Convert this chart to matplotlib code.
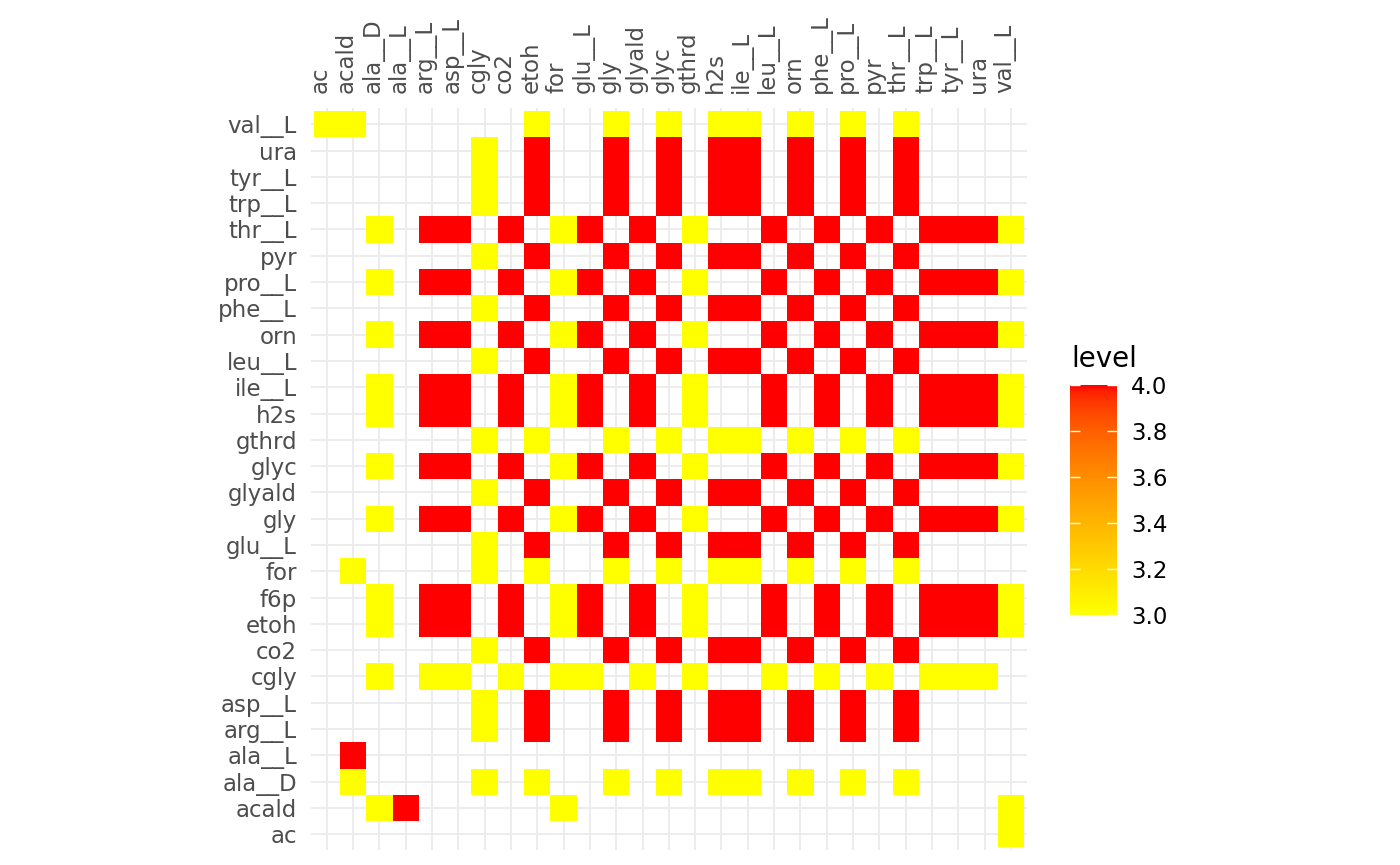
import numpy as np
import matplotlib.pyplot as plt
from matplotlib.colors import ListedColormap

# columns (top axis) and rows (left axis, bottom -> top)
x_labels = ['ac', 'acald', 'ala__D', 'ala__L', 'arg__L', 'asp__L', 'cgly', 'co2',
            'etoh', 'for', 'glu__L', 'gly', 'glyald', 'glyc', 'gthrd', 'h2s',
            'ile__L', 'leu__L', 'orn', 'phe__L', 'pro__L', 'pyr', 'thr__L',
            'trp__L', 'tyr__L', 'ura', 'val__L']
y_labels = ['ac', 'acald', 'ala__D', 'ala__L', 'arg__L', 'asp__L', 'cgly', 'co2',
            'etoh', 'f6p', 'for', 'glu__L', 'gly', 'glyald', 'glyc', 'gthrd',
            'h2s', 'ile__L', 'leu__L', 'orn', 'phe__L', 'pro__L', 'pyr',
            'thr__L', 'trp__L', 'tyr__L', 'ura', 'val__L']

# level per cell, one string per row (same order as y_labels); '.' = no tile
level_rows = [
    "..........................3",  # ac
    "..34.....3................3",  # acald
    ".3....3.3..3.3.33.3.3.3....",  # ala__D
    ".4.........................",  # ala__L
    "......3.4..4.4.44.4.4.4....",  # arg__L
    "......3.4..4.4.44.4.4.4....",  # asp__L
    "..3.33.3.33.3.3..3.3.3.333.",  # cgly
    "......3.4..4.4.44.4.4.4....",  # co2
    "..3.44.4.34.4.3..4.4.4.4443",  # etoh
    "..3.44.4.34.4.3..4.4.4.4443",  # f6p
    ".3....3.3..3.3.33.3.3.3....",  # for
    "......3.4..4.4.44.4.4.4....",  # glu__L
    "..3.44.4.34.4.3..4.4.4.4443",  # gly
    "......3.4..4.4.44.4.4.4....",  # glyald
    "..3.44.4.34.4.3..4.4.4.4443",  # glyc
    "......3.3..3.3.33.3.3.3....",  # gthrd
    "..3.44.4.34.4.3..4.4.4.4443",  # h2s
    "..3.44.4.34.4.3..4.4.4.4443",  # ile__L
    "......3.4..4.4.44.4.4.4....",  # leu__L
    "..3.44.4.34.4.3..4.4.4.4443",  # orn
    "......3.4..4.4.44.4.4.4....",  # phe__L
    "..3.44.4.34.4.3..4.4.4.4443",  # pro__L
    "......3.4..4.4.44.4.4.4....",  # pyr
    "..3.44.4.34.4.3..4.4.4.4443",  # thr__L
    "......3.4..4.4.44.4.4.4....",  # trp__L
    "......3.4..4.4.44.4.4.4....",  # tyr__L
    "......3.4..4.4.44.4.4.4....",  # ura
    "33......3..3.3.33.3.3.3....",  # val__L
]
cbar_ticks = [3.0, 3.2, 3.4, 3.6, 3.8, 4.0]

levels = np.full((len(y_labels), len(x_labels)), np.nan)
for i, row in enumerate(level_rows):
    for j, ch in enumerate(row):
        if ch != '.':
            levels[i, j] = float(ch)
levels = np.ma.masked_invalid(levels)


# yellow -> red gradient interpolated in CIELAB (like ggplot's scale_fill_gradient)
def to_lab(rgb):
    c = np.array(rgb, dtype=float)
    c = np.where(c <= 0.04045, c / 12.92, ((c + 0.055) / 1.055) ** 2.4)
    m = np.array([[0.4124, 0.3576, 0.1805],
                  [0.2126, 0.7152, 0.0722],
                  [0.0193, 0.1192, 0.9505]])
    xyz = m @ c / np.array([0.95047, 1.0, 1.08883])
    f = np.where(xyz > 0.008856, np.cbrt(xyz), 7.787 * xyz + 16 / 116)
    return np.array([116 * f[1] - 16, 500 * (f[0] - f[1]), 200 * (f[1] - f[2])])


def from_lab(lab):
    fy = (lab[0] + 16) / 116
    fx = fy + lab[1] / 500
    fz = fy - lab[2] / 200
    f = np.array([fx, fy, fz])
    xyz = np.where(f ** 3 > 0.008856, f ** 3, (f - 16 / 116) / 7.787)
    xyz = xyz * np.array([0.95047, 1.0, 1.08883])
    m = np.array([[3.2406, -1.5372, -0.4986],
                  [-0.9689, 1.8758, 0.0415],
                  [0.0557, -0.2040, 1.0570]])
    c = m @ xyz
    c = np.where(c <= 0.0031308, 12.92 * c, 1.055 * np.clip(c, 0, None) ** (1 / 2.4) - 0.055)
    return np.clip(c, 0, 1)


lab_lo, lab_hi = to_lab([1, 1, 0]), to_lab([1, 0, 0])
cmap = ListedColormap([from_lab(lab_lo + t * (lab_hi - lab_lo)) for t in np.linspace(0, 1, 256)])

fig = plt.figure(figsize=(14, 8.65), dpi=100)
ax = fig.add_axes([0.2221, 0.0173, 0.5113, 0.8573])

mesh = ax.pcolormesh(np.arange(len(x_labels) + 1) - 0.5, np.arange(len(y_labels) + 1) - 0.5,
                     levels, cmap=cmap, vmin=3, vmax=4, antialiased=False, zorder=2)

ax.set_xlim(-0.6, len(x_labels) - 0.4)
ax.set_ylim(-0.6, len(y_labels) - 0.4)
ax.set_xticks(range(len(x_labels)))
ax.set_yticks(range(len(y_labels)))
ax.set_xticklabels(x_labels, rotation=90, rotation_mode='anchor', ha='left', va='baseline')
ax.set_yticklabels(y_labels)
ax.xaxis.tick_top()
ax.tick_params(axis='x', length=0, pad=11, labelsize=16.5, labelcolor='#4D4D4D')
ax.tick_params(axis='y', length=0, pad=10, labelsize=16.5, labelcolor='#4D4D4D')
ax.grid(True, color='#EBEBEB', linewidth=1.3)
ax.set_axisbelow(True)
for s in ax.spines.values():
    s.set_visible(False)

# legend
cax = fig.add_axes([0.7643, 0.289, 0.0336, 0.266])
cbar = fig.colorbar(mesh, cax=cax, ticks=cbar_ticks)
cbar.outline.set_visible(False)
cax.set_yticklabels(['%.1f' % t for t in cbar_ticks])
cax.tick_params(left=True, right=True, labelleft=False, labelright=True, direction='in',
                color='white', length=7, width=1, pad=10, labelsize=16.5, labelcolor='black')
fig.text(0.7655, 0.5757, 'level', ha='left', va='baseline', fontsize=20, color='black')

fig.savefig('out.png', dpi=100)
